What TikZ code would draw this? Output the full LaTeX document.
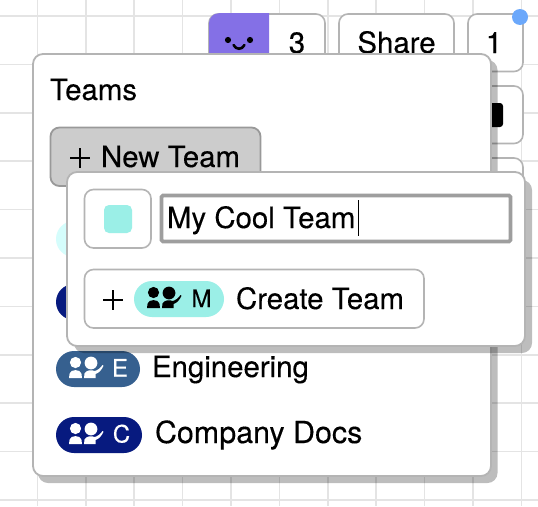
\documentclass[tikz,border=0pt]{standalone}
\usepackage{fontspec}
\setmainfont[FakeBold=0.25]{TeX Gyre Heros}
\definecolor{edge}{HTML}{B4B4B4}
\definecolor{gridc}{HTML}{E4E4E4}
\definecolor{teal}{HTML}{9BEFE7}
\definecolor{navy}{HTML}{071A7F}
\definecolor{steel}{HTML}{36608F}
\definecolor{purp}{HTML}{8470E6}
\definecolor{dot}{HTML}{6BA8FB}
\newcommand{\sizeL}{\fontsize{29.4}{31}\selectfont}
\newcommand{\sizeW}{\fontsize{30.4}{32}\selectfont}
\newcommand{\sizeM}{\fontsize{24}{26}\selectfont}
\tikzset{
  x=1pt,y=-1pt,
  btn/.style={draw=edge,line width=1.6pt,fill=#1,rounded corners=9pt},
  btn/.default=white,
  panel/.style={draw=edge,line width=1.8pt,fill=white,rounded corners=10pt},
  shade/.style={fill=black,fill opacity=.26,rounded corners=10pt},
  txt/.style={anchor=base west,inner sep=0pt,outer sep=0pt,text=black,font=\sizeL},
  ctxt/.style={anchor=base,inner sep=0pt,outer sep=0pt,text=black,font=\sizeL},
  pill/.style={fill=#1,rounded corners=18pt},
  plusline/.style={draw=black,line width=1.9pt},
  people/.pic={
    \fill[pic actions] (6.5,5.5) circle (5.6);
    \fill[pic actions] (0,21) -- (0.6,16.5) .. controls (1.5,12) and (11.5,12) .. (12.4,16.5) -- (13,21) -- cycle;
    \fill[pic actions] (22,6) circle (6.4);
    \fill[pic actions] (15,21) -- (15.5,16.5) .. controls (17,13) and (23,12.5) .. (25.5,14) .. controls (28.5,13.5) and (31.5,11) .. (33.5,8)
       -- (34.5,8.8) .. controls (32.5,13) and (30,16) .. (26.5,17) -- (26.5,21) -- cycle;
  },
}
\begin{document}
\begin{tikzpicture}
\useasboundingbox (0,0) rectangle (538,506);
\fill[white] (0,0) rectangle (538,506);
% grid
\foreach \gx in {37.4,85.8,134.2,182.6,231,279.4,327.8,376.2,424.6,473,521.4}
  \draw[gridc,line width=1.6pt] (\gx,0) -- (\gx,506);
\foreach \gy in {16,64.4,112.8,161.2,209.6,258,306.4,354.8,403.2,451.6,500}
  \draw[gridc,line width=1.6pt] (0,\gy) -- (538,\gy);
% toolbar
\draw[btn] (209,14) rectangle (325,90);
\fill[purp] (269,13.2) -- (219,13.2) arc[start angle=-90,end angle=-180,radius=10] -- (209,90) -- (269,90) -- cycle;
\fill[black] (228,40) circle (3.1);
\fill[black] (250,40) circle (3.1);
\draw[black,line width=2.6pt,line cap=round] (233.5,45) .. controls (236,50) and (242,50) .. (244.5,45);
\node[ctxt] (countlabel) at (297,53) {3};
\draw[btn] (339,14) rectangle (454,90);
\node[ctxt] (sharelabel) at (396.5,53) {Share};
\draw[btn] (468,14) rectangle (523,71.5);
\node[ctxt] (onelabel) at (494,53) {1};
\fill[dot] (520,17) circle (8);
\draw[btn] (468,86) rectangle (523,143.5);
\fill[black,rounded corners=3pt] (480,103) rectangle (503,127);
\draw[btn] (468,158) rectangle (523,215);
% main panel
\fill[shade] (38,60) rectangle (497.5,483);
\draw[panel] (33,54) rectangle (491,476);
\node[txt] (teams) at (50,100) {Teams};
\draw[draw=black!40,line width=1.8pt,fill=black!20,rounded corners=9pt] (50.5,127.5) rectangle (260.5,186);
\draw[plusline] (70,158) -- (90,158) (80,148) -- (80,168);
\node[txt] (newteam) at (101,167) {New Team};
% team rows
\fill[teal!55!cyan!25!white,rounded corners=18pt] (56,221) rectangle (140,257);
\fill[pill=navy] (56,284) rectangle (140,320);
\fill[pill=steel] (56,351) rectangle (140,387);
\pic[white] at (69,357) {people};
\node[ctxt,font=\sizeM,text=white] (elabel) at (120,376.5) {E};
\node[txt] (engineering) at (152,377) {Engineering};
\fill[pill=navy] (56,417) rectangle (142,453);
\pic[white] at (69,423) {people};
\node[ctxt,font=\sizeM,text=white] (clabel) at (121.5,442.5) {C};
\node[txt,font=\sizeW] (company) at (155,443) {Company Docs};
% new team panel
\fill[shade] (74,180) rectangle (532,353);
\draw[panel] (67,172) rectangle (525,346);
\draw[btn] (84.5,189.5) rectangle (151,248);
\fill[teal,rounded corners=5pt] (104,205) rectangle (132,233);
\draw[draw=black!38,line width=3.6pt,fill=white,rounded corners=1.5pt] (161.5,195.5) rectangle (510.5,241.5);
\node[txt] (input) at (167,228) {My Cool Team};
\draw[black,line width=1.1pt] (358.5,200) -- (358.5,236);
\draw[btn] (84.5,269.5) rectangle (424,328);
\draw[plusline] (103,300) -- (123,300) (113,290) -- (113,310);
\fill[pill=teal] (134,281) rectangle (224,317);
\pic[black] at (147,287) {people};
\node[ctxt,font=\sizeM] (mlabel) at (201.5,307) {M};
\node[txt] (create) at (236,309) {Create Team};
\end{tikzpicture}
\end{document}
